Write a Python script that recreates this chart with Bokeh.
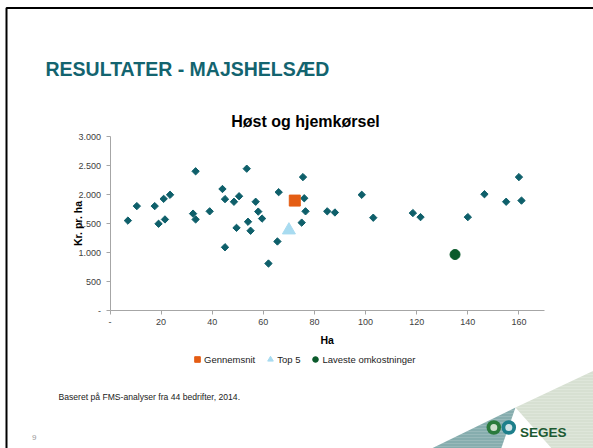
import math
from bokeh.plotting import figure
from bokeh.models import Range1d, FixedTicker, LinearAxis, Legend, LegendItem
from bokeh.core.properties import value
from bokeh.embed import file_html
from bokeh.resources import INLINE

# ---------------- data ----------------
farm_ha = [7, 10.5, 17.5, 21, 23.5, 19, 21.5, 33.5, 32.5, 33.5, 39, 44, 45, 48.5, 50.5,
           53.5, 57, 58, 59.5, 54, 66, 75.5, 76, 76.5, 75, 49.5, 55, 45, 65.5, 62,
           85, 88, 98.5, 103, 118.5, 121.5, 140, 146.5, 155, 160, 161]
farm_kr = [1550, 1800, 1800, 1925, 1995, 1495, 1570, 2400, 1670, 1570, 1710, 2095, 1920, 1875, 1970,
           2445, 1875, 1705, 1585, 1530, 2040, 2300, 1935, 1710, 1515, 1425, 1375, 1090, 1190, 810,
           1710, 1690, 1995, 1600, 1680, 1610, 1610, 2005, 1875, 2300, 1895]
avg_ha = [72.3]
avg_kr = [1895]
top5_ha = [70]
top5_kr = [1385]
low_ha = [135]
low_kr = [965]

x_ticks = [0, 20, 40, 60, 80, 100, 120, 140, 160]
x_tick_labels = ["-", "20", "40", "60", "80", "100", "120", "140", "160"]
y_ticks = [0, 500, 1000, 1500, 2000, 2500, 3000]
y_tick_labels = ["-", "500", "1.000", "1.500", "2.000", "2.500", "3.000"]
X_MAX, Y_MAX = 170, 3000

FONT = "Liberation Sans"
TEAL = "#0e5f6a"
ORANGE = "#e45d14"
LIGHTBLUE = "#a8dbf0"
GREEN = "#0a5a2b"
AXIS = "#a6a6a6"

# ---------------- page layout (pixels) ----------------
W, H = 593, 448
FL, FR, FT, FB = 109.5, 544, 136, 310      # plot-area edges on the slide

# chart data ranges chosen so that the plot area sits at FL..FR / FT..FB of a full-canvas frame
sx = (FR - FL) / X_MAX
sy = (FB - FT) / Y_MAX
x_range = Range1d(-FL / sx, (W - FL) / sx)
y_range = Range1d(-(H - FB) / sy, Y_MAX + FT / sy)

p = figure(width=W, height=H, output_backend="svg", toolbar_location=None,
           x_range=x_range, y_range=y_range, x_axis_type=None, y_axis_type=None,
           min_border=0, background_fill_color="white", border_fill_color="white")
p.outline_line_color = None
p.grid.visible = False
p.extra_x_ranges = {"px": Range1d(0, W)}
p.extra_y_ranges = {"py": Range1d(H, 0)}


def style_axis(ax):
    ax.axis_line_color = AXIS
    ax.major_tick_line_color = AXIS
    ax.minor_tick_line_color = None
    ax.major_tick_in = 0
    ax.major_tick_out = 4
    ax.major_label_text_font = FONT
    ax.major_label_text_font_size = "9px"
    ax.major_label_text_color = "#404040"


xaxis = LinearAxis(fixed_location=0, bounds=(0, X_MAX), ticker=FixedTicker(ticks=x_ticks),
                   major_label_overrides={t: l for t, l in zip(x_ticks, x_tick_labels)},
                   major_label_standoff=4)
yaxis = LinearAxis(fixed_location=0, bounds=(0, Y_MAX), ticker=FixedTicker(ticks=y_ticks),
                   major_label_overrides={t: l for t, l in zip(y_ticks, y_tick_labels)},
                   major_label_standoff=5)
style_axis(xaxis)
style_axis(yaxis)
p.add_layout(xaxis, "below")
p.add_layout(yaxis, "left")

# ---------------- data marks ----------------
p.scatter(farm_ha, farm_kr, marker="square", angle=math.pi / 4, size=5.2,
          fill_color=TEAL, line_color=TEAL)
r_avg = p.scatter(avg_ha, avg_kr, marker="square", size=11, fill_color=ORANGE, line_color=ORANGE)
r_top = p.scatter(top5_ha, top5_kr, marker="triangle", size=13, fill_color=LIGHTBLUE, line_color=LIGHTBLUE)
r_low = p.scatter(low_ha, low_kr, marker="circle", size=10, fill_color=GREEN, line_color=GREEN)

legend = Legend(items=[LegendItem(label="Gennemsnit", renderers=[r_avg]),
                       LegendItem(label="Top 5", renderers=[r_top]),
                       LegendItem(label="Laveste omkostninger", renderers=[r_low])],
                orientation="horizontal", location=(190, H - 352 - 14),
                glyph_width=14, glyph_height=14, label_height=12, label_standoff=0,
                spacing=8, padding=0, margin=0,
                label_text_font=FONT, label_text_font_size="9.5px", label_text_color="#222222",
                border_line_color=None, background_fill_alpha=0)
p.add_layout(legend, "center")

PX = dict(x_range_name="px", y_range_name="py")


def text(x, y, s, size, color, bold=False, align="left", angle=0.0):
    p.text(x=[x], y=[y], text=[s], text_font=value(FONT), text_font_size=size,
           text_font_style="bold" if bold else "normal", text_color=color,
           text_align=align, text_baseline="alphabetic", angle=angle, **PX)


# axis titles
text((FL + FR) / 2, 339, "Ha", "10.5px", "#000000", bold=True, align="center")
text(77.5, (FT + FB) / 2, "Kr. pr. ha", "10.5px", "#000000", bold=True, align="center",
     angle=math.pi / 2)

# ---------------- slide decoration ----------------
p.patch([427, 515, 500], [450, 407, 450], fill_color="#86adae", line_color=None,
        hatch_pattern="-", hatch_color="white", hatch_alpha=0.25, hatch_scale=3, hatch_weight=0.6, **PX)
p.patch([515, 600, 600, 553], [407, 367, 450, 450], fill_color="#d7e0d2", line_color=None,
        hatch_pattern="-", hatch_color="white", hatch_alpha=0.3, hatch_scale=3, hatch_weight=0.6, **PX)
p.scatter([493.3], [427], marker="circle", size=14.5, fill_color="#2a7a3c", line_color=None, **PX)
p.scatter([493.3], [427], marker="circle", size=7, fill_color="#cfe0cf", line_color=None, **PX)
p.scatter([508.3], [427], marker="circle", size=14.5, fill_color="#1d7f8b", line_color=None, **PX)
p.scatter([508.3], [427], marker="circle", size=7, fill_color="#cfe3e6", line_color=None, **PX)
text(519.5, 432.3, "SEGES", "13.5px", "#1c5a32", bold=True)
# slide border (top and left)
p.line([6, 6, 600], [460, 7.6, 7.6], line_color="black", line_width=2, **PX)

# texts
text(45, 68.3, "RESULTATER - MAJSHELSÆD", "19.5px", "#13646f", bold=True)
text(305, 120.7, "Høst og hjemkørsel", "16px", "#000000", bold=True, align="center")
text(58, 396.5, "Baseret på FMS-analyser fra 44 bedrifter, 2014.", "8.6px", "#222222")
text(31.5, 437, "9", "8px", "#9a9a9a")

open("out.html", "w").write(file_html(p, INLINE))
